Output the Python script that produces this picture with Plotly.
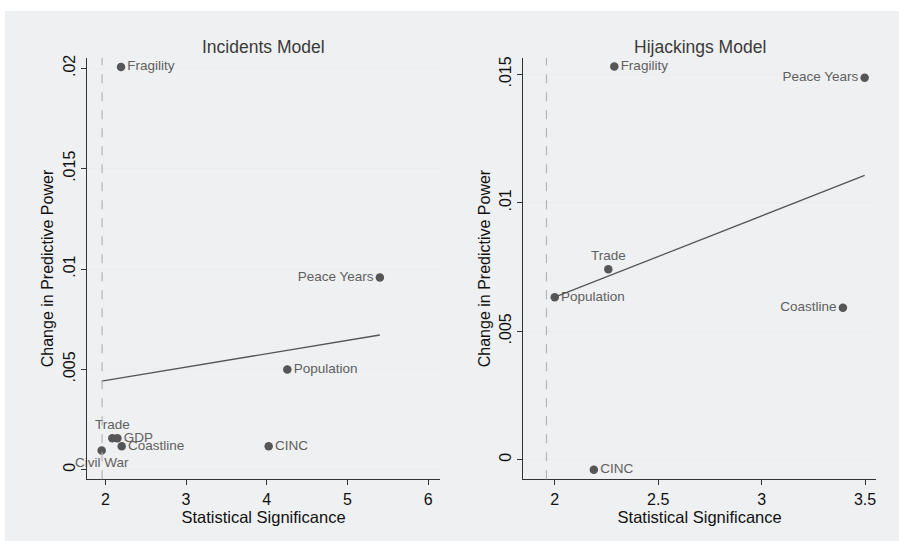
import numpy as np
import plotly.graph_objects as go

# ---- Incidents model ----
inc_names = ["Fragility", "Peace Years", "Population", "Trade", "GDP",
             "Coastline", "Civil War", "CINC"]
inc_sig = [2.194, 5.40, 4.254, 2.087, 2.149, 2.203, 1.955, 4.023]
inc_gain = [0.02007, 0.00958, 0.00499, 0.00157, 0.00157, 0.00117, 0.00096, 0.00117]

# ---- Hijackings model ----
hij_names = ["Fragility", "Peace Years", "Trade", "Population", "Coastline", "CINC"]
hij_sig = [2.288, 3.498, 2.259, 2.000, 3.393, 2.189]
hij_gain = [0.0153, 0.01487, 0.00741, 0.00632, 0.00592, -0.000387]

# tick labels
inc_xticks = [2, 3, 4, 5, 6]
inc_yticks = [0, 0.005, 0.01, 0.015, 0.02]
inc_yticktext = ["0", ".005", ".01", ".015", ".02"]
hij_xticks = [2, 2.5, 3, 3.5]
hij_yticks = [0, 0.005, 0.01, 0.015]
hij_yticktext = ["0", ".005", ".01", ".015"]

CRIT = 1.96  # two-sided 5% critical value

# where each marker's label sits relative to its point
inc_labelpos = {"Fragility": "middle right", "Peace Years": "middle left",
                "Population": "middle right", "Trade": "top center",
                "GDP": "middle right", "Coastline": "middle right",
                "Civil War": "bottom center", "CINC": "middle right"}
hij_labelpos = {"Fragility": "middle right", "Peace Years": "middle left",
                "Trade": "top center", "Population": "middle right",
                "Coastline": "middle left", "CINC": "middle right"}

FONT = "Liberation Sans, Arial, sans-serif"
MARK = "#565656"
LABEL = "#606060"
BG = "#eff0f2"
W, H = 899, 541

fig = go.Figure()


def add_panel(names, xs, ys, pos, xa, ya):
    fig.add_trace(go.Scatter(
        x=xs, y=ys, mode="markers+text", text=names,
        textposition=[pos[n] for n in names],
        textfont=dict(family=FONT, size=13.5, color=LABEL),
        marker=dict(color=MARK, size=8.5),
        xaxis=xa, yaxis=ya, showlegend=False, cliponaxis=False,
        hoverinfo="skip"))
    slope, icpt = np.polyfit(xs, ys, 1)
    fx = np.array([min(xs), max(xs)])
    fig.add_trace(go.Scatter(
        x=fx, y=icpt + slope * fx, mode="lines",
        line=dict(color=MARK, width=1.3),
        xaxis=xa, yaxis=ya, showlegend=False, hoverinfo="skip"))


add_panel(inc_names, inc_sig, inc_gain, inc_labelpos, "x", "y")
add_panel(hij_names, hij_sig, hij_gain, hij_labelpos, "x2", "y2")

ydom = [1 - 479 / H, 1 - 55 / H]
left_dom = [87 / W, 440 / W]
right_dom = [523.3 / W, 876 / W]

xcommon = dict(showgrid=False, zeroline=False, showline=True, linecolor="#333333",
               linewidth=1.2, ticks="outside", ticklen=5, tickcolor="#333333",
               tickfont=dict(family=FONT, size=16, color="#111111"),
               title=dict(text="Statistical Significance", standoff=2,
                          font=dict(family=FONT, size=16.5, color="#111111")))
ycommon = dict(showgrid=True, gridcolor="#ececec", gridwidth=1.2, zeroline=False,
               showline=True, linecolor="#333333", linewidth=1.2,
               ticks="outside", ticklen=5, tickcolor="#333333", tickangle=-90,
               tickfont=dict(family=FONT, size=16, color="#111111"),
               title=dict(text="Change in Predictive Power", standoff=2,
                          font=dict(family=FONT, size=16, color="#111111")))

fig.update_layout(
    width=W, height=H, margin=dict(l=0, r=0, t=0, b=0),
    paper_bgcolor="white", plot_bgcolor="white",
    xaxis=dict(xcommon, domain=left_dom, range=[1.773, 6.145],
               tickvals=inc_xticks, anchor="y"),
    yaxis=dict(ycommon, domain=ydom, range=[-0.00048, 0.02053],
               tickvals=inc_yticks, ticktext=inc_yticktext, anchor="x"),
    xaxis2=dict(xcommon, domain=right_dom, range=[1.848, 3.553],
                tickvals=hij_xticks, anchor="y2"),
    yaxis2=dict(ycommon, domain=ydom, range=[-0.000762, 0.015646],
                tickvals=hij_yticks, ticktext=hij_yticktext, anchor="x2"),
    shapes=[
        dict(type="rect", xref="paper", yref="paper", x0=5 / W, x1=1,
             y0=0, y1=1 - 8 / H, fillcolor=BG, line=dict(width=0), layer="below"),
        dict(type="line", xref="x", yref="y domain", x0=CRIT, x1=CRIT, y0=0, y1=1,
             line=dict(color="#b4b4b4", width=1.2, dash="dash")),
        dict(type="line", xref="x2", yref="y2 domain", x0=CRIT, x1=CRIT, y0=0, y1=1,
             line=dict(color="#b4b4b4", width=1.2, dash="dash")),
    ],
    annotations=[
        dict(text="Incidents Model", xref="paper", yref="paper",
             x=sum(left_dom) / 2, y=ydom[1], xanchor="center", yanchor="bottom",
             yshift=-1, showarrow=False,
             font=dict(family=FONT, size=17.5, color="#3a3a3a")),
        dict(text="Hijackings Model", xref="paper", yref="paper",
             x=sum(right_dom) / 2, y=ydom[1], xanchor="center", yanchor="bottom",
             yshift=-1, showarrow=False,
             font=dict(family=FONT, size=17.5, color="#3a3a3a")),
    ],
)

fig.write_html("out.html")
